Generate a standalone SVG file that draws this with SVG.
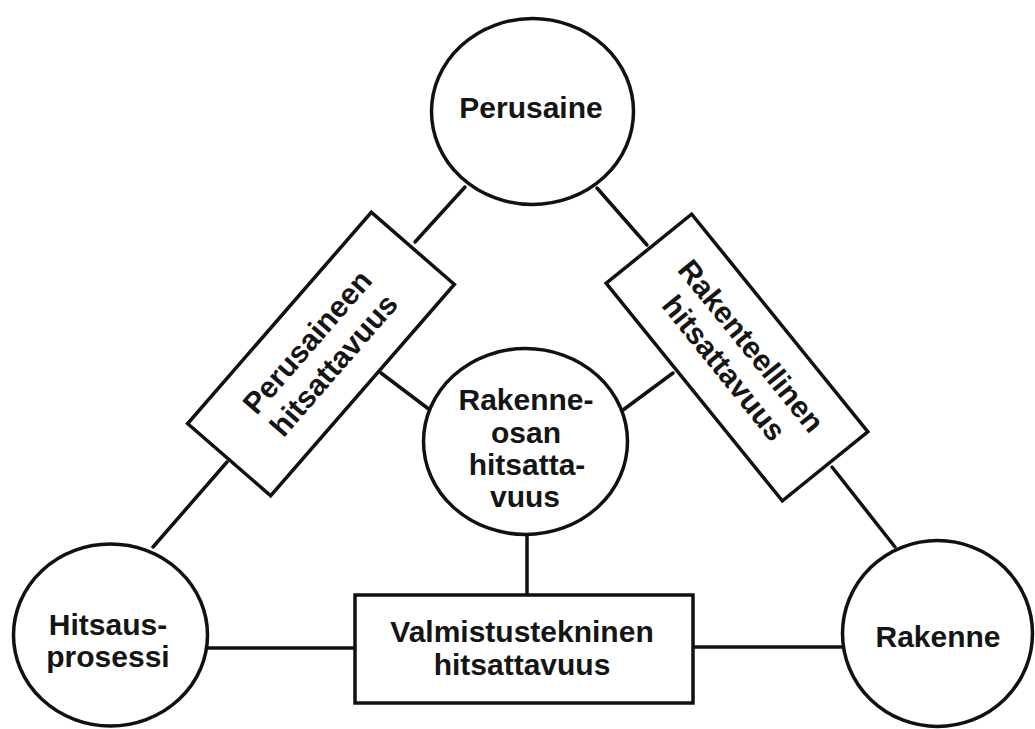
<svg xmlns="http://www.w3.org/2000/svg" width="1035" height="729" viewBox="0 0 1035 729">
<style>
.shape{fill:#ffffff;stroke:#111111;stroke-width:3.5}
.conn{stroke:#111111;stroke-width:3.5;fill:none;stroke-linecap:round}
.lbl{font-family:"Liberation Sans",Arial,Helvetica,sans-serif;font-weight:bold;font-size:30px;fill:#151515;text-anchor:middle}
</style>
<rect x="0" y="0" width="1035" height="729" fill="#ffffff"/>
<g id="connectors">
<line class="conn" x1="153" y1="547" x2="227" y2="462"/>
<line class="conn" x1="415" y1="242" x2="465" y2="187"/>
<line class="conn" x1="597" y1="188" x2="647" y2="245"/>
<line class="conn" x1="832" y1="467" x2="895" y2="547"/>
<line class="conn" x1="207" y1="648" x2="355" y2="648"/>
<line class="conn" x1="693" y1="647" x2="842" y2="647"/>
<line class="conn" x1="381" y1="373" x2="430" y2="410"/>
<line class="conn" x1="673" y1="373" x2="623" y2="410"/>
<line class="conn" x1="527" y1="535" x2="527" y2="595"/>
</g>
<g id="perusaine">
<ellipse class="shape" cx="532.5" cy="111.5" rx="101" ry="93"/>
<text class="lbl" x="531" y="118">Perusaine</text>
</g>
<g id="hitsausprosessi">
<ellipse class="shape" cx="110.5" cy="635" rx="97" ry="91"/>
<text class="lbl" x="108" y="635">Hitsaus-</text>
<text class="lbl" x="108" y="667">prosessi</text>
</g>
<g id="rakenne">
<ellipse class="shape" cx="937.5" cy="633.5" rx="95" ry="93"/>
<text class="lbl" x="938" y="647">Rakenne</text>
</g>
<g id="rakenneosan">
<ellipse class="shape" cx="525.5" cy="441.5" rx="102" ry="93"/>
<text class="lbl" x="526" y="410">Rakenne-</text>
<text class="lbl" x="526" y="443">osan</text>
<text class="lbl" x="527" y="475">hitsatta-</text>
<text class="lbl" x="525" y="507">vuus</text>
</g>
<g id="perusaineen-hitsattavuus" transform="translate(321 354) rotate(-49)">
<rect class="shape" x="-140" y="-55" width="280" height="110"/>
<text class="lbl" x="0" y="-8">Perusaineen</text>
<text class="lbl" x="0" y="27">hitsattavuus</text>
</g>
<g id="rakenteellinen-hitsattavuus" transform="translate(737 357.5) rotate(51)">
<rect class="shape" x="-140" y="-55" width="280" height="110"/>
<text class="lbl" x="0" y="-8">Rakenteellinen</text>
<text class="lbl" x="0" y="27">hitsattavuus</text>
</g>
<g id="valmistustekninen">
<rect class="shape" x="355" y="595" width="338" height="108"/>
<text class="lbl" x="522" y="642">Valmistustekninen</text>
<text class="lbl" x="522" y="675">hitsattavuus</text>
</g>
</svg>
